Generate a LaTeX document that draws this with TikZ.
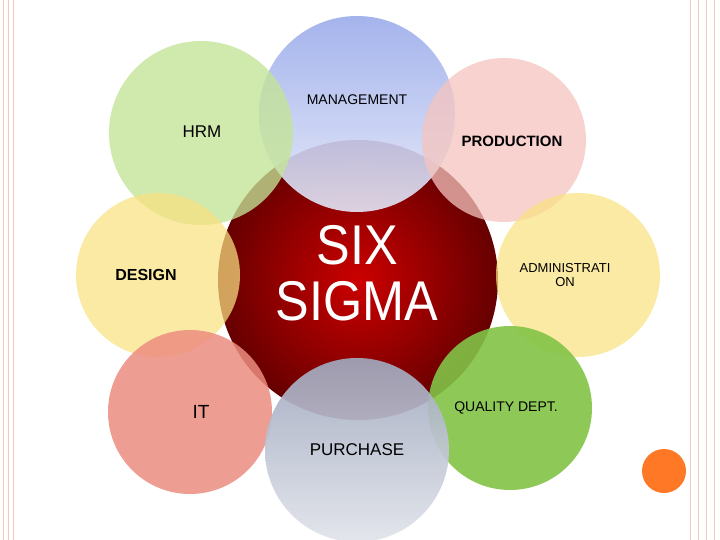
\documentclass[tikz,border=0pt]{standalone}
\usepackage{fontspec}
\setmainfont{Liberation Sans}
\begin{document}
\begin{tikzpicture}[x=1pt,y=-1pt,
  petal/.style={circle,minimum size=#1,inner sep=0pt,fill opacity=0.8},
  lbl/.style={font=\fontsize{14}{16}\selectfont,align=center}]
\definecolor{hrmc}{RGB}{196,228,150}
\definecolor{proc}{RGB}{245,196,190}
\definecolor{yelc}{RGB}{250,226,130}
\definecolor{itc}{RGB}{236,140,128}
\definecolor{quac}{RGB}{130,196,70}
\definecolor{bordc}{RGB}{245,200,185}
\definecolor{mantop}{RGB}{155,172,235}
\definecolor{manbot}{RGB}{228,232,248}
\definecolor{purtop}{RGB}{160,168,190}
\definecolor{purbot}{RGB}{225,228,235}
\useasboundingbox (0,0) rectangle (720,540);
\fill[white] (0,0) rectangle (720,540);
% borders
\foreach \x in {3,8,13} \draw[bordc,line width=1pt] (\x,0)--(\x,540);
\foreach \x in {690,698,706,714} \draw[bordc,line width=1pt] (\x,0)--(\x,540);
% center
\node[circle,minimum size=280pt,inner sep=0pt,inner color=red!80!black,outer color=red!40!black] (six) at (358,280) {};
% petals
\node[petal=196pt,top color=mantop,bottom color=manbot,fill opacity=0.9] (man) at (357,114) {};
\node[petal=184pt,fill=hrmc,fill opacity=0.78] (hrm) at (201,133) {};
\node[petal=164pt,fill=proc,fill opacity=0.75] (pro) at (504,140) {};
\node[petal=164pt,fill=yelc,fill opacity=0.72] (des) at (158,275) {};
\node[petal=164pt,fill=yelc,fill opacity=0.72] (adm) at (578,275) {};
\node[petal=164pt,fill=itc,fill opacity=0.85] (it) at (190,412) {};
\node[petal=164pt,fill=quac,fill opacity=0.9] (qua) at (510,408) {};
\node[petal=184pt,top color=purtop,bottom color=purbot,fill opacity=0.92] (pur) at (357,450) {};
\fill[orange!75!red!85!white] (664,471) circle (22);
% labels
\node[lbl] (tman) at (357,100) {MANAGEMENT};
\node[lbl,font=\fontsize{17}{19}\selectfont] (thrm) at (202,132) {HRM};
\node[lbl,font=\bfseries\fontsize{15}{17}\selectfont] (tpro) at (512,141) {PRODUCTION};
\node[lbl,font=\bfseries\fontsize{16}{18}\selectfont] (tdes) at (146,275) {DESIGN};
\node[lbl,font=\fontsize{13}{14}\selectfont] (tadm) at (565,275) {ADMINISTRATI\\ON};
\node[lbl,font=\fontsize{19}{21}\selectfont] (tit) at (201,412) {IT};
\node[lbl] (tqua) at (506,408) {QUALITY DEPT.};
\node[lbl,font=\fontsize{17}{19}\selectfont] (tpur) at (357,450) {PURCHASE};
\node[lbl,text=white,font=\fontsize{56}{56}\selectfont] (tsix) at (357,273) {\scalebox{0.9}[1]{SIX}\\\scalebox{0.9}[1]{SIGMA}};
\end{tikzpicture}
\end{document}
